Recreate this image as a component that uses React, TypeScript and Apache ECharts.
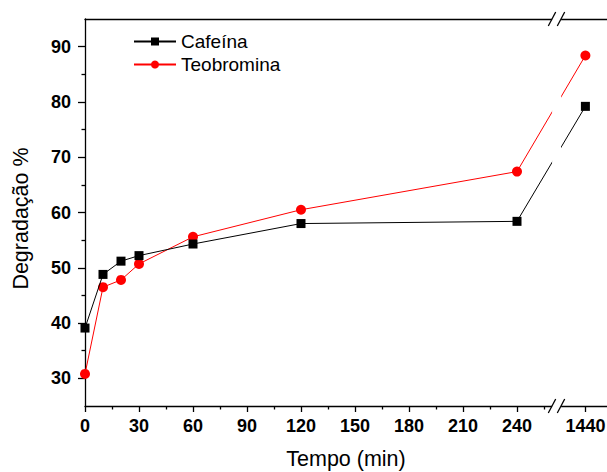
import React, { useEffect, useRef } from "react";
import * as echarts from "echarts";

const times = [0, 10, 20, 30, 60, 120, 240, 1440];
const cafeina = [39.1, 48.8, 51.2, 52.2, 54.3, 58.0, 58.4, 79.2];
const teobromina = [30.8, 46.5, 47.8, 50.7, 55.6, 60.5, 67.4, 88.4];
const xTickValues = [0, 30, 60, 90, 120, 150, 180, 210, 240, 1440];
const xMinorValues = [15, 45, 75, 105, 135, 165, 195, 225, 255];
const yTickValues = [30, 40, 50, 60, 70, 80, 90];
const yMinorValues = [35, 45, 55, 65, 75, 85];

// broken axis: times up to the break are linear, 1440 sits just after the break
const BREAK_AT = 262;
const AFTER_BREAK_POS = 278;
const mapX = (t: number) => (t <= BREAK_AT ? t : AFTER_BREAK_POS + (t - 1440));
const unmapX = (v: number) => (v <= BREAK_AT ? v : v - AFTER_BREAK_POS + 1440);

const FONT = "'Liberation Sans', Arial, sans-serif";

export default function App() {
  const ref = useRef<HTMLDivElement>(null);
  useEffect(() => {
    if (!ref.current) return;
    const chart = echarts.init(ref.current, null, { renderer: "svg" });
    const option: any = {
      animation: false,
      backgroundColor: "#fff",
      grid: {
        left: 85,
        right: 0,
        top: 19,
        bottom: 66,
        containLabel: false,
        outerBoundsMode: "none",
      },
      legend: {
        orient: "vertical",
        left: 133,
        top: 32,
        padding: 0,
        itemWidth: 42,
        itemHeight: 10,
        itemGap: 4,
        textStyle: { fontFamily: FONT, fontSize: 19, color: "#000" },
        data: ["Cafeína", "Teobromina"],
      },
      xAxis: [
        {
          type: "value",
          position: "bottom",
          min: 0,
          max: 290,
          name: "Tempo (min)",
          nameLocation: "middle",
          nameGap: 42,
          nameTextStyle: { fontFamily: FONT, fontSize: 21.5, color: "#000" },
          axisLine: { show: true, onZero: false, lineStyle: { color: "#000", width: 1.3 } },
          axisTick: {
            show: true,
            inside: false,
            length: 6,
            customValues: xTickValues.map(mapX),
            lineStyle: { color: "#000", width: 1.3 },
          },
          axisLabel: {
            show: true,
            customValues: xTickValues.map(mapX),
            margin: 11,
            fontFamily: FONT,
            fontSize: 18,
            fontWeight: "bold",
            color: "#000",
            formatter: (v: number) => String(Math.round(unmapX(v))),
          },
          splitLine: { show: false },
        },
        {
          type: "value",
          position: "bottom",
          min: 0,
          max: 290,
          axisLine: { show: false },
          axisTick: {
            show: true,
            inside: false,
            length: 3.5,
            customValues: xMinorValues.map(mapX),
            lineStyle: { color: "#000", width: 1.3 },
          },
          axisLabel: { show: false },
          splitLine: { show: false },
        },
        {
          type: "value",
          position: "top",
          min: 0,
          max: 290,
          axisLine: { show: true, onZero: false, lineStyle: { color: "#000", width: 1.3 } },
          axisTick: { show: false },
          axisLabel: { show: false },
          splitLine: { show: false },
        },
      ],
      yAxis: [
        {
          type: "value",
          position: "left",
          min: 25,
          max: 95,
          name: "Degradação %",
          nameLocation: "middle",
          nameGap: 53,
          nameTextStyle: {
            fontFamily: FONT,
            fontSize: 21.5,
            color: "#000",
            padding: [0, 12, 0, 0],
          },
          axisLine: { show: true, onZero: false, lineStyle: { color: "#000", width: 1.3 } },
          axisTick: {
            show: true,
            inside: false,
            length: 7,
            customValues: yTickValues,
            lineStyle: { color: "#000", width: 1.3 },
          },
          axisLabel: {
            show: true,
            customValues: yTickValues,
            margin: 14,
            fontFamily: FONT,
            fontSize: 18,
            fontWeight: "bold",
            color: "#000",
          },
          splitLine: { show: false },
        },
        {
          type: "value",
          position: "left",
          min: 25,
          max: 95,
          axisLine: { show: false },
          axisTick: {
            show: true,
            inside: false,
            length: 3.5,
            customValues: yMinorValues,
            lineStyle: { color: "#000", width: 1.3 },
          },
          axisLabel: { show: false },
          splitLine: { show: false },
        },
      ],
      series: [
        {
          name: "Cafeína",
          type: "line",
          xAxisIndex: 0,
          yAxisIndex: 0,
          data: times.map((t, i) => [mapX(t), cafeina[i]]),
          symbol: "rect",
          symbolSize: 9,
          itemStyle: { color: "#000" },
          lineStyle: { color: "#000", width: 1 },
          z: 3,
        },
        {
          name: "Teobromina",
          type: "line",
          xAxisIndex: 0,
          yAxisIndex: 0,
          data: times.map((t, i) => [mapX(t), teobromina[i]]),
          symbol: "circle",
          symbolSize: 10,
          itemStyle: { color: "#ff0000" },
          lineStyle: { color: "#ff0000", width: 1 },
          z: 2,
        },
      ],
    };
    chart.setOption(option);

    const bx = chart.convertToPixel({ xAxisIndex: 0 }, BREAK_AT) as number;
    const yTop = chart.convertToPixel({ yAxisIndex: 0 }, 95) as number;
    const yBot = chart.convertToPixel({ yAxisIndex: 0 }, 25) as number;
    const slash = (cx: number, cy: number) => ({
      type: "line",
      z: 101,
      shape: { x1: cx - 3.7, y1: cy + 7, x2: cx + 3.7, y2: cy - 7 },
      style: { stroke: "#000", lineWidth: 1.3 },
    });
    chart.setOption({
      graphic: [
        {
          type: "rect",
          z: 100,
          shape: { x: bx - 4.5, y: yTop - 2, width: 9, height: yBot - yTop + 4 },
          style: { fill: "#fff" },
        },
        slash(bx - 4.6, yTop),
        slash(bx + 4.4, yTop),
        slash(bx - 4.6, yBot),
        slash(bx + 4.4, yBot),
      ],
    });
    return () => chart.dispose();
  }, []);
  return (
    <div
      ref={ref}
      style={{ position: "absolute", left: 0, top: 0, width: 607, height: 472 }}
    />
  );
}
